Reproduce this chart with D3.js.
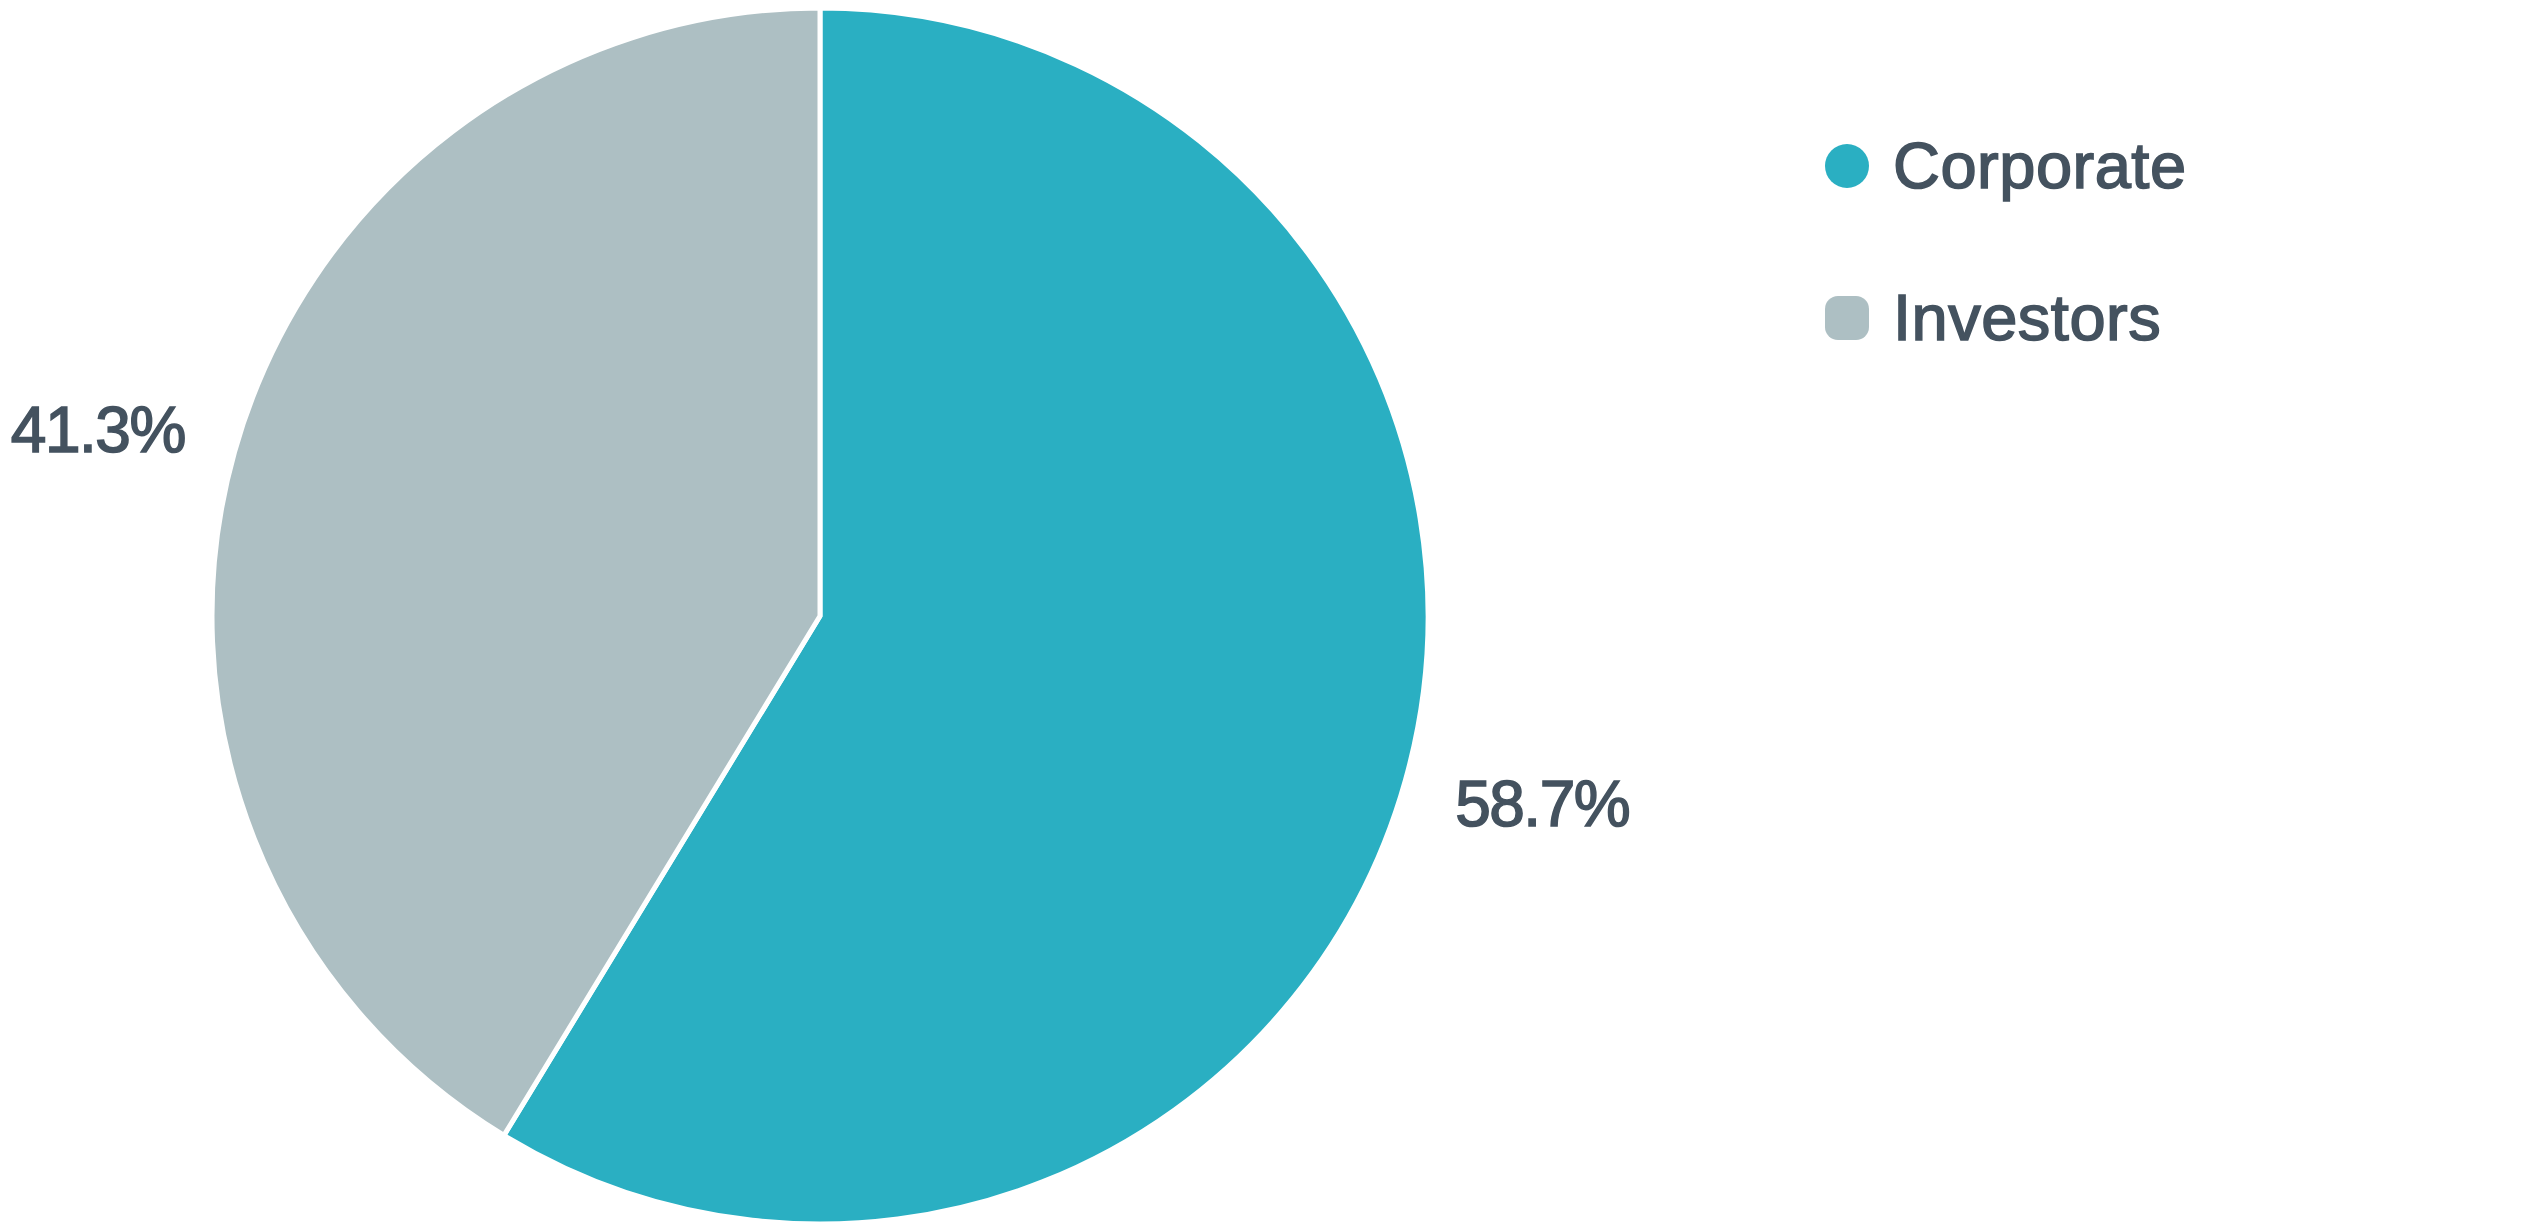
<!DOCTYPE html>
<html>
<head>
<meta charset="utf-8">
<script src="https://cdn.jsdelivr.net/npm/d3@7"></script>
<style>
  html, body { margin: 0; padding: 0; background: #ffffff; }
  svg { display: block; }
  text { font-family: "Liberation Sans", Arial, Helvetica, sans-serif; fill: #44525f; stroke: #44525f; stroke-width: 1.6px; }
</style>
</head>
<body>
<svg id="chart" width="2545" height="1232"></svg>
<script>
const categories = ["Corporate", "Investors"];
const values = [58.7, 41.3];
const colors = ["#2aafc2", "#adbfc3"];
const labels = ["58.7%", "41.3%"];

const svg = d3.select("#chart");
const cx = 820, cy = 616, R = 608;

const data = categories.map((c, i) => ({ name: c, value: values[i], color: colors[i], label: labels[i] }));

const pie = d3.pie().sort(null).value(d => d.value);
const arcs = pie(data);
const arc = d3.arc().innerRadius(0).outerRadius(R);
const labelArc = d3.arc().innerRadius(750).outerRadius(750);

const g = svg.append("g").attr("transform", `translate(${cx},${cy})`);
g.selectAll("path.slice")
  .data(arcs)
  .join("path")
  .attr("class", "slice")
  .attr("d", arc)
  .attr("fill", d => d.data.color)
  .attr("stroke", "#ffffff")
  .attr("stroke-width", 5)
  .attr("stroke-linejoin", "round");

g.selectAll("text.lbl")
  .data(arcs)
  .join("text")
  .attr("class", "lbl")
  .attr("transform", d => {
    const [x, y] = labelArc.centroid(d);
    const a = (d.startAngle + d.endAngle) / 2;
    const adj = Math.sin(a) > 0 ? -15 : 15;
    return `translate(${x},${y + adj})`;
  })
  .attr("text-anchor", "middle")
  .attr("dy", "0.36em")
  .attr("font-size", 64)
  .attr("letter-spacing", -1.5)
  .text(d => d.data.label);

// legend
const legend = svg.append("g").attr("transform", "translate(1847,166)");
const items = legend.selectAll("g.item")
  .data(data)
  .join("g")
  .attr("class", "item")
  .attr("transform", (d, i) => `translate(0,${i * 152})`);
items.append("rect")
  .attr("x", -22).attr("y", -22)
  .attr("width", 44).attr("height", 44)
  .attr("rx", (d, i) => i === 0 ? 22 : 13)
  .attr("fill", d => d.color);
items.append("text")
  .attr("x", 46)
  .attr("y", 22)
  .attr("font-size", 65)
  .attr("letter-spacing", 0.5)
  .text(d => d.name);
</script>
</body>
</html>
